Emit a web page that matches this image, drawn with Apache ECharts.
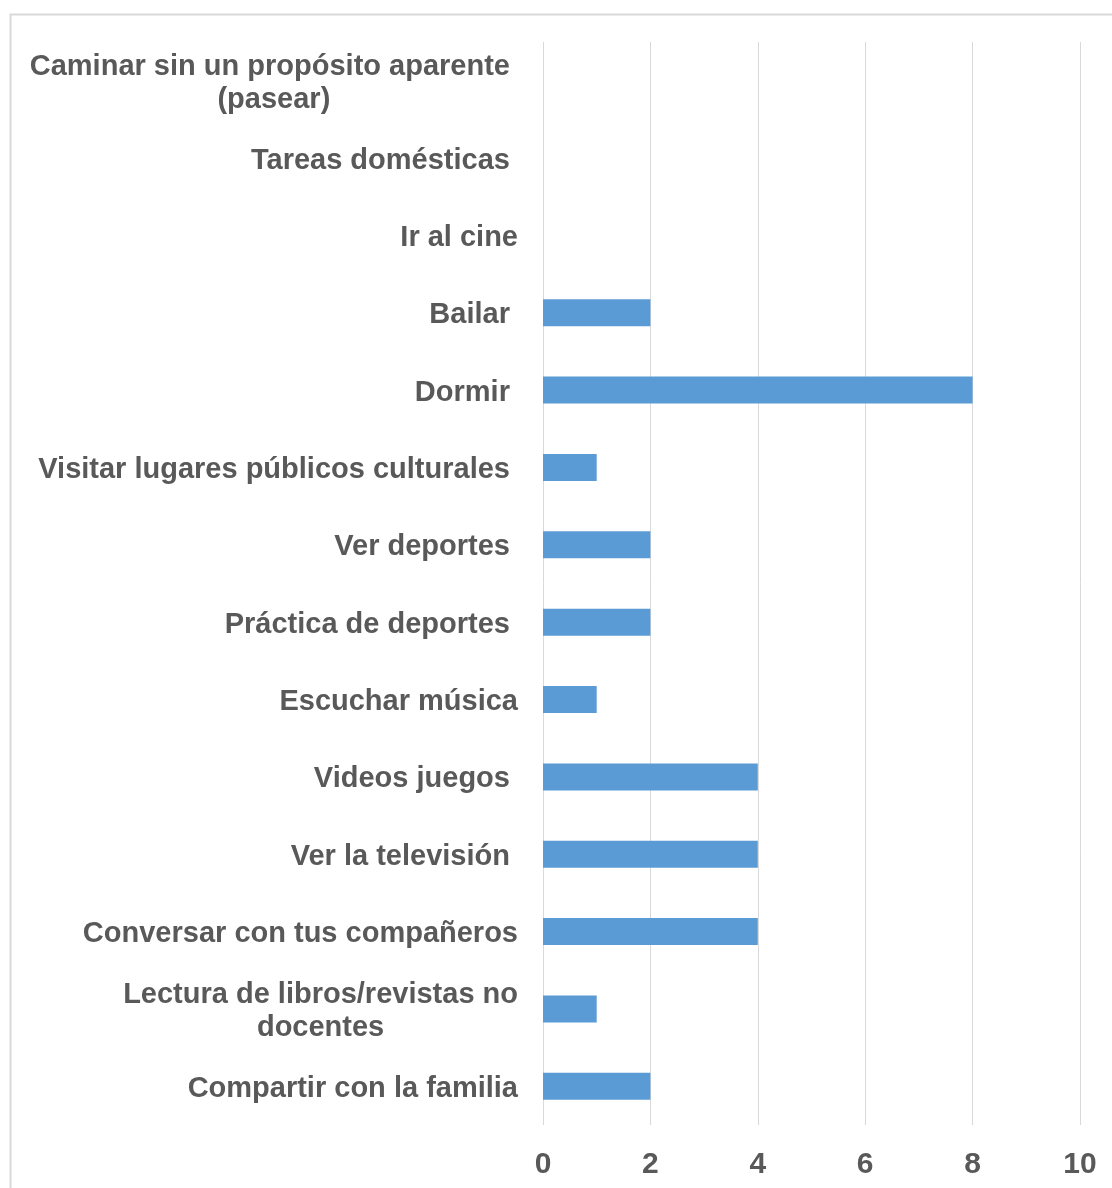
<!DOCTYPE html>
<html>
<head>
<meta charset="utf-8">
<script src="https://cdn.jsdelivr.net/npm/echarts@6/dist/echarts.min.js"></script>
<style>
  html, body { margin: 0; padding: 0; background: #ffffff; }
  #chart { width: 1112px; height: 1188px; }
</style>
</head>
<body>
<div id="chart"></div>
<script>
// Activities, listed bottom to top as they appear on the category axis
const categories = [
  'Compartir con la familia',
  'Lectura de libros/revistas no\ndocentes',
  'Conversar con tus compañeros',
  'Ver la televisión ',
  'Videos juegos ',
  'Escuchar música',
  'Práctica de deportes ',
  'Ver deportes ',
  'Visitar lugares públicos culturales ',
  'Dormir ',
  'Bailar ',
  'Ir al cine',
  'Tareas domésticas ',
  'Caminar sin un propósito aparente \n(pasear)'
];

// Number of responses per activity
const values = [2, 1, 4, 4, 4, 1, 2, 2, 1, 8, 2, 0, 0, 0];

// Value axis ticks
const xTicks = [0, 2, 4, 6, 8, 10];

const textColor = '#595959';
const gridColor = '#d9d9d9';
const barColor = '#5b9bd5';
const fontFamily = '"Liberation Sans", Arial, sans-serif';

const chart = echarts.init(document.getElementById('chart'), null, { renderer: 'canvas' });

chart.setOption({
  backgroundColor: '#ffffff',
  animation: false,
  graphic: [{
    type: 'rect',
    left: 8,
    top: 12,
    shape: { width: 1300, height: 1300 },
    style: { fill: 'none', stroke: gridColor, lineWidth: 2 },
    silent: true
  }],
  grid: {
    left: 543,
    right: 32,
    top: 42,
    bottom: 63,
    containLabel: false
  },
  xAxis: {
    type: 'value',
    min: xTicks[0],
    max: xTicks[xTicks.length - 1],
    interval: 2,
    axisLine: { show: false },
    axisTick: { show: false },
    splitLine: { show: true, lineStyle: { color: gridColor, width: 1 } },
    axisLabel: {
      color: textColor,
      fontFamily: fontFamily,
      fontWeight: 'bold',
      fontSize: 30,
      margin: 25
    }
  },
  yAxis: {
    type: 'category',
    data: categories,
    axisLine: { show: false },
    axisTick: { show: false },
    splitLine: { show: false },
    axisLabel: {
      margin: 25,
      padding: [5, 0, 0, 0],
      formatter: function (v) {
        return v.split('\n').map(function (line) { return '{c|' + line + '}'; }).join('\n');
      },
      rich: {
        c: {
          align: 'center',
          color: textColor,
          fontFamily: fontFamily,
          fontWeight: 'bold',
          fontSize: 29,
          lineHeight: 33
        }
      }
    }
  },
  series: [{
    type: 'bar',
    data: values,
    barWidth: 27,
    itemStyle: { color: barColor },
    silent: true
  }]
});
</script>
</body>
</html>
